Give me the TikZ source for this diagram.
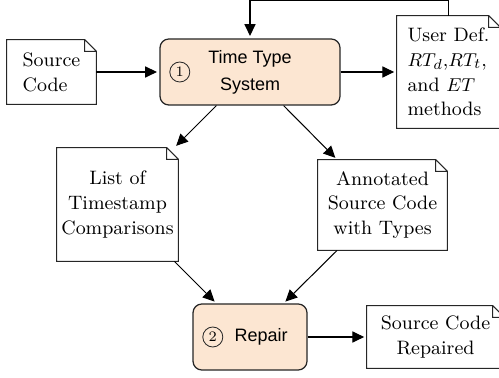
\documentclass[tikz,border=0pt]{standalone}
\usepackage{amsmath}
\usepackage{amssymb}
\usepackage{fontspec}
\newfontfamily\procsans{Liberation Sans}
\usetikzlibrary{arrows.meta,positioning}
\definecolor{peach}{HTML}{FCE6D2}
\tikzset{
  docline/.style={draw=black!85, line width=0.5pt},
  doc/.style={rectangle, inner sep=0pt, font=\fontsize{9.4}{12}\selectfont,
    append after command={\pgfextra{\draw[docline] (\tikzlastnode.north west) -- ([xshift=-0.2cm]\tikzlastnode.north east) -- ([yshift=-0.2cm]\tikzlastnode.north east) -- (\tikzlastnode.south east) -- (\tikzlastnode.south west) -- cycle ([xshift=-0.2cm]\tikzlastnode.north east) |- ([yshift=-0.2cm]\tikzlastnode.north east);}}},
  proc/.style={draw=black!85, line width=0.6pt, rounded corners=0.15cm, fill=peach,
    align=center, font=\procsans\fontsize{8.7}{13}\selectfont},
  stepnum/.style={circle, draw=black!85, line width=0.4pt, minimum size=0.34cm, inner sep=0pt, font=\scriptsize},
  arr/.style={-{Triangle[length=0.2cm,width=0.19cm]}, shorten >=1.2pt, line width=0.5pt}
}
\begin{document}
\begin{tikzpicture}
  \useasboundingbox (0,0) rectangle (8.483,-6.426);
  % Nodes
  \node[doc, minimum width=1.513cm, minimum height=1.088cm, align=left] (src) at (0.8755,-1.224) {Source\\Code};
  \node[proc, minimum width=3.06cm, minimum height=1.122cm] (tts) at (4.25,-1.224) {Time Type\\System};
  \node[stepnum, right=0.17cm of tts.west] (n1) {1};
  \node[doc, minimum width=1.751cm, minimum height=1.904cm, align=left] (udef) at (7.6245,-1.224) {User Def.\\$RT_d$,$RT_t$,\\and $ET$\\methods};
  \node[doc, minimum width=2.057cm, minimum height=1.921cm, align=center] (list) at (1.9975,-3.4765) {List of\\Timestamp\\Comparisons};
  \node[doc, minimum width=2.193cm, minimum height=1.53cm, align=center] (annot) at (6.5025,-3.485) {Annotated\\Source Code\\with Types};
  \node[proc, minimum width=1.938cm, minimum height=1.122cm] (repair) at (4.25,-5.729) {\hspace*{0.38cm}Repair};
  \node[stepnum, right=0.17cm of repair.west] (n2) {2};
  \node[doc, minimum width=2.329cm, minimum height=1.054cm, align=center] (srep) at (7.4035,-5.729) {Source Code\\Repaired};
  \coordinate (fb) at (tts.north |- 0,-0.008);

  % Connectors
  \draw[arr] (src) -- (tts); % source code into the type system
  \draw[arr] (tts) -- (udef); % type system to user methods
  \draw[arr] (udef.north) |- (fb) -- (tts.north); % feedback from user methods
  \draw[arr] (tts.225) -- (list.45); % comparisons found
  \draw[arr] (tts.315) -- (annot.135); % annotated code
  \draw[arr] (list.-45) -- (repair.135); % comparisons into repair
  \draw[arr] (annot.-135) -- (repair.45); % annotated code into repair
  \draw[arr] (repair) -- (srep); % repaired output
\end{tikzpicture}
\end{document}
